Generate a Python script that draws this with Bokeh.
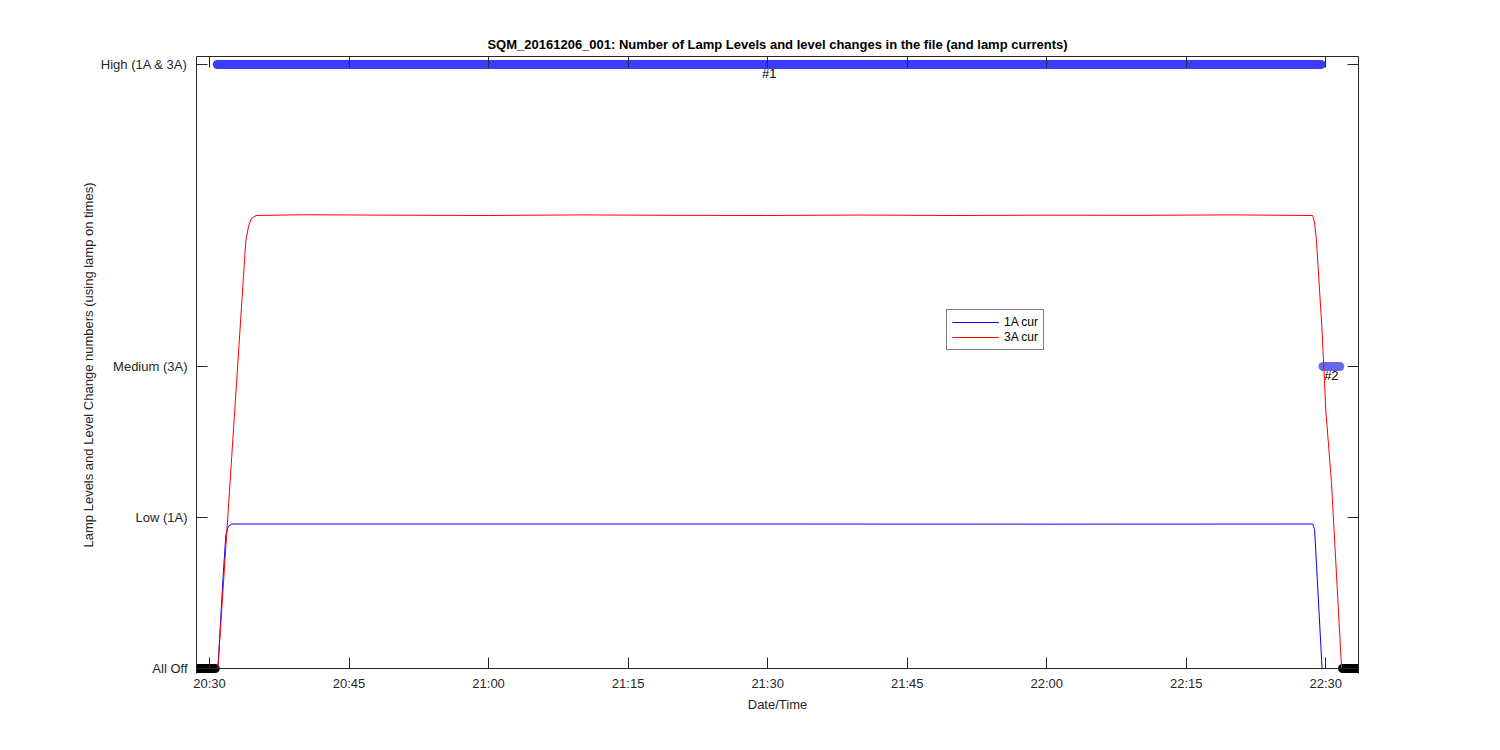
import pandas as pd
from bokeh.plotting import figure
from bokeh.models import (Range1d, FixedTicker, LinearAxis, DatetimeAxis, Span,
                          DatetimeTickFormatter, Legend, LegendItem, ColumnDataSource,
                          CustomJSTickFormatter)
from bokeh.embed import file_html
from bokeh.resources import INLINE
from bokeh.core.properties import value

DAY = "2016-12-06 "
TITLE = "SQM_20161206_001: Number of Lamp Levels and level changes in the file (and lamp currents)"

# ---- lamp current traces ----
t_1a = ["20:28:30", "20:30:54", "20:31:26", "20:31:45", "20:32:00", "20:32:24",
        "21:00:00", "21:30:00", "22:00:00", "22:28:36", "22:28:48", "22:29:36", "22:33:40"]
cur_1a = [0.0, 0.0, 0.58, 0.88, 0.94, 0.957,
          0.957, 0.957, 0.956, 0.957, 0.92, 0.0, 0.0]

t_3a = ["20:28:30", "20:30:54", "20:33:54", "20:34:12", "20:34:30", "20:35:00",
        "20:40:00", "20:50:00", "21:00:00", "21:10:00", "21:20:00", "21:30:00",
        "21:40:00", "21:50:00", "22:00:00", "22:10:00", "22:20:00", "22:28:36",
        "22:28:48", "22:29:00", "22:29:36", "22:30:00", "22:30:36", "22:31:42", "22:33:40"]
cur_3a = [0.0, 0.0, 2.83, 2.93, 2.98, 3.0,
          3.005, 3.002, 3.0, 3.004, 3.001, 3.0,
          3.003, 3.0, 3.002, 3.001, 3.004, 3.0,
          2.95, 2.83, 2.24, 1.71, 1.245, 0.0, 0.0]

# ---- lamp level changes ----
level_start = ["20:28:42", "20:30:50", "22:29:42", "22:31:48"]
level_end = ["20:30:37", "22:29:30", "22:31:30", "22:33:30"]
level_value = [0, 4, 2, 0]
level_label = ["", "#1", "#2", ""]

y_ticks = [0, 1, 2, 4]
y_tick_labels = ["All Off", "Low (1A)", "Medium (3A)", "High (1A & 3A)"]
x_tick_times = ["20:30", "20:45", "21:00", "21:15", "21:30", "21:45", "22:00", "22:15", "22:30"]
x_start, x_end = "20:28:36", "22:33:31"
y_bottom, y_top = -0.033, 4.053


def ts(s):
    return pd.to_datetime(DAY + s)


def ms(s):
    return ts(s).value / 1e6


level_colors = {0: "#000000", 4: "#3c3cff", 2: "#6868ee"}

lev = pd.DataFrame({
    "x0": [ts(s) for s in level_start],
    "x1": [ts(s) for s in level_end],
    "y": level_value,
    "label": level_label,
})
lev["color"] = [level_colors[v] for v in level_value]
lev["xm"] = lev["x0"] + (lev["x1"] - lev["x0"]) / 2
src_lev = ColumnDataSource(lev)
src_txt = ColumnDataSource(lev[lev["label"] != ""])

FONT = "Liberation Sans"
TXT = "#262626"

p = figure(frame_width=1162, frame_height=617, x_axis_type="datetime",
           x_range=Range1d(ts(x_start), ts(x_end)), y_range=Range1d(y_bottom, y_top),
           output_backend="svg", toolbar_location=None,
           min_border_left=196, min_border_right=126, min_border_top=56, min_border_bottom=61)

p.title.text = TITLE
p.title.align = "center"
p.title.text_font = FONT
p.title.text_font_size = "13px"
p.title.text_font_style = "bold"
p.title.text_color = "black"

p.xgrid.grid_line_color = None
p.ygrid.grid_line_color = None
p.outline_line_color = None
p.background_fill_color = "white"
p.border_fill_color = "white"

xt = FixedTicker(ticks=[ms(s + ":00") for s in x_tick_times])
yt = FixedTicker(ticks=y_ticks)
fmt = DatetimeTickFormatter(minutes="%H:%M", hourmin="%H:%M", hours="%H:%M", minsec="%H:%M")
blank = CustomJSTickFormatter(code="return ''")


def style_axis(ax):
    ax.major_tick_in = 11
    ax.major_tick_out = 0
    ax.minor_tick_in = 0
    ax.minor_tick_out = 0
    ax.axis_line_color = TXT
    ax.major_tick_line_color = TXT
    ax.major_label_text_font = FONT
    ax.major_label_text_font_size = "13px"
    ax.major_label_text_color = TXT
    ax.axis_label_text_font = FONT
    ax.axis_label_text_font_size = "13px"
    ax.axis_label_text_font_style = "normal"
    ax.axis_label_text_color = TXT


xa = p.xaxis[0]
xa.ticker = xt
xa.formatter = fmt
style_axis(xa)
xa.axis_line_color = None
xa.major_tick_in = 16
xa.major_tick_out = -5
xa.major_label_standoff = 2
xa.axis_label = "Date/Time"
xa.axis_label_standoff = 3

ya = p.yaxis[0]
ya.ticker = yt
ya.major_label_overrides = {v: l for v, l in zip(y_ticks, y_tick_labels)}
style_axis(ya)
ya.major_label_standoff = 9
ya.axis_label = "Lamp Levels and Level Change numbers (using lamp on times)"
ya.axis_label_standoff = 2

ra = LinearAxis(ticker=yt, formatter=blank)
style_axis(ra)
ra.major_label_standoff = 0
p.add_layout(ra, "right")
ta = DatetimeAxis(ticker=xt, formatter=blank)
style_axis(ta)
ta.major_label_standoff = 0
p.add_layout(ta, "above")

# x axis line drawn at the "All Off" level
p.add_layout(Span(location=y_ticks[0], dimension="width", line_color=TXT, line_width=1))

# level markers
p.segment(x0="x0", y0="y", x1="x1", y1="y", source=src_lev, line_color="color",
          line_width=9, line_cap="round")

# currents
r1 = p.line([ts(s) for s in t_1a], cur_1a, line_color="#0000ff", line_width=1)
r3 = p.line([ts(s) for s in t_3a], cur_3a, line_color="#ff0000", line_width=1)

p.text(x="xm", y="y", text="label", source=src_txt, text_align="center",
       text_baseline="top", y_offset=1, text_font=value(FONT),
       text_font_size="13px", text_color="black")

legend = Legend(items=[LegendItem(label="1A cur", renderers=[r1]),
                       LegendItem(label="3A cur", renderers=[r3])],
                location=(750, 323), margin=0, padding=5, spacing=1,
                glyph_width=47, glyph_height=14, label_height=14, label_standoff=5,
                border_line_color="black", border_line_width=1,
                label_text_font=FONT, label_text_font_size="12px",
                label_text_color="black", background_fill_alpha=1)
p.add_layout(legend)

open("out.html", "w").write(file_html(p, INLINE))
